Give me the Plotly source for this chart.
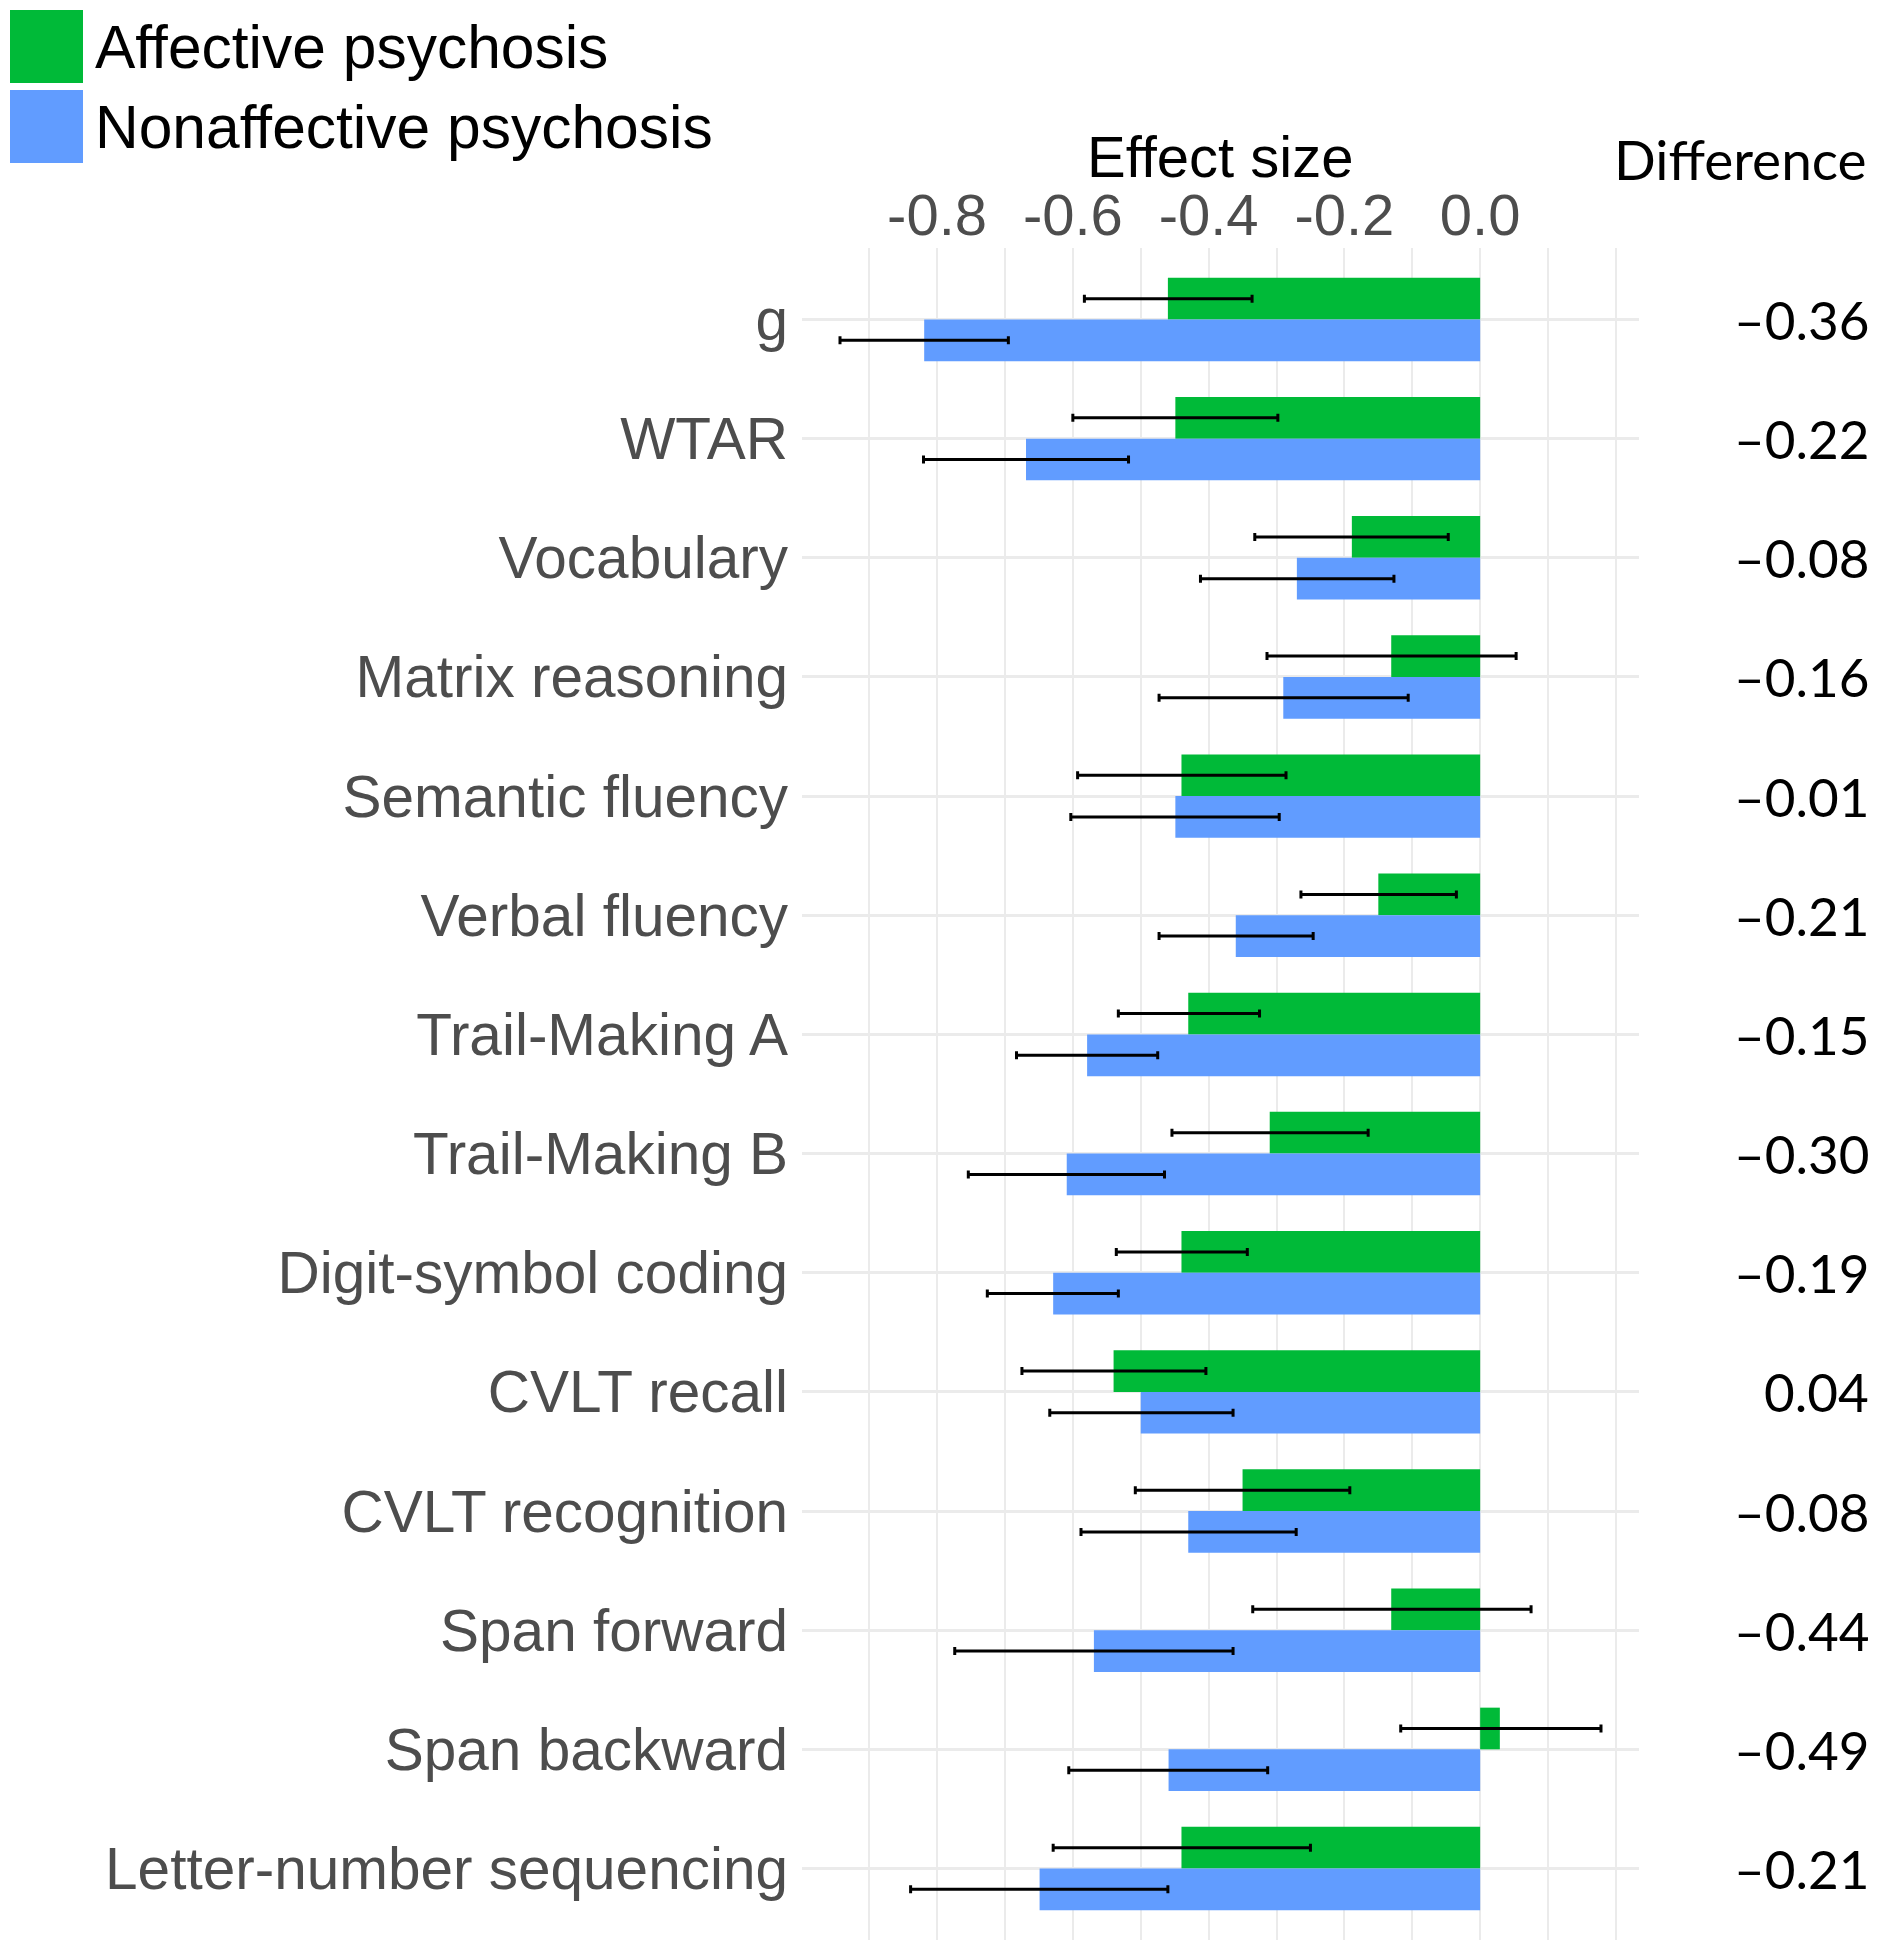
import plotly.graph_objects as go

categories = ["g", "WTAR", "Vocabulary", "Matrix reasoning", "Semantic fluency",
              "Verbal fluency", "Trail-Making A", "Trail-Making B", "Digit-symbol coding",
              "CVLT recall", "CVLT recognition", "Span forward", "Span backward",
              "Letter-number sequencing"]

series_names = ["Affective psychosis", "Nonaffective psychosis"]

aff = [-0.460, -0.449, -0.189, -0.131, -0.440, -0.150, -0.430, -0.310, -0.440, -0.540, -0.350, -0.131, 0.029, -0.440]
aff_lo = [-0.583, -0.600, -0.332, -0.314, -0.593, -0.264, -0.533, -0.454, -0.536, -0.675, -0.508, -0.335, -0.117, -0.629]
aff_hi = [-0.336, -0.298, -0.047, 0.053, -0.286, -0.035, -0.325, -0.165, -0.343, -0.404, -0.192, 0.075, 0.178, -0.250]

non = [-0.819, -0.669, -0.270, -0.290, -0.449, -0.360, -0.579, -0.609, -0.629, -0.500, -0.430, -0.569, -0.459, -0.649]
non_lo = [-0.943, -0.820, -0.412, -0.473, -0.603, -0.473, -0.683, -0.754, -0.726, -0.634, -0.588, -0.774, -0.606, -0.839]
non_hi = [-0.695, -0.518, -0.127, -0.106, -0.296, -0.246, -0.475, -0.465, -0.533, -0.364, -0.271, -0.364, -0.313, -0.460]

differences = ["–0.36", "–0.22", "–0.08", "–0.16", "–0.01", "–0.21", "–0.15", "–0.30",
               "–0.19", "0.04", "–0.08", "–0.44", "–0.49", "–0.21"]

tick_vals = [-0.9, -0.8, -0.7, -0.6, -0.5, -0.4, -0.3, -0.2, -0.1, 0.0, 0.1, 0.2]
tick_text = ["", "-0.8", "", "-0.6", "", "-0.4", "", "-0.2", "", "0.0", "", ""]

colors = ["#00BA38", "#619CFF"]

# page offset from the browser's default body margin
OFF = 8
W, H = 1879 - 2 * OFF, 1950 - 2 * OFF
L, R, T, B = 802 - OFF, 1639 - OFF, 248 - OFF, 1940 - OFF


def px_x(px):
    return (px - OFF - L) / (R - L)


def px_y(py):
    return 1 - (py - OFF - T) / (B - T)


fig = go.Figure()
for name, vals, lo, hi, col in [(series_names[0], aff, aff_lo, aff_hi, colors[0]),
                                (series_names[1], non, non_lo, non_hi, colors[1])]:
    fig.add_trace(go.Bar(
        y=categories, x=vals, name=name, orientation="h",
        marker=dict(color=col, line=dict(width=0)),
        error_x=dict(type="data", symmetric=False,
                     array=[h - v for h, v in zip(hi, vals)],
                     arrayminus=[v - l for v, l in zip(vals, lo)],
                     color="black", thickness=3, width=4),
        showlegend=False,
    ))

fig.update_layout(
    width=W, height=H,
    margin=dict(l=L, r=W - R, t=T, b=H - B, pad=0),
    paper_bgcolor="white", plot_bgcolor="white",
    barmode="group", bargap=0.30, bargroupgap=0,
    font=dict(family="Liberation Sans, Arial", color="#4d4d4d"),
)

fig.update_xaxes(
    side="top", range=[-0.999, 0.234],
    tickmode="array", tickvals=tick_vals, ticktext=tick_text,
    tickfont=dict(size=58, color="#4d4d4d", family="Liberation Sans, Arial"),
    showgrid=True, gridcolor="#ebebeb", gridwidth=2,
    zeroline=False, showline=False, ticks="", ticklabelstandoff=0,
)
fig.update_yaxes(
    autorange=False, range=[13.6, -0.6],
    tickfont=dict(size=58.5, color="#4d4d4d", family="Liberation Sans, Arial"),
    showgrid=True, gridcolor="#ebebeb", gridwidth=3,
    zeroline=False, showline=False, ticks="", ticklabelstandoff=13,
)

annotations = []
for cat, d in zip(categories, differences):
    annotations.append(dict(
        x=px_x(1871), xref="paper", y=cat, yref="y",
        text=d, showarrow=False, xanchor="right", yanchor="middle",
        font=dict(family="Lato, Liberation Sans", size=53, color="black"),
    ))
annotations.append(dict(
    x=px_x(1869), xref="paper", y=px_y(159), yref="paper",
    text="Difference", showarrow=False, xanchor="right", yanchor="middle",
    font=dict(family="Lato, Liberation Sans", size=55, color="black"),
))
annotations.append(dict(
    x=0.5, xref="paper", y=px_y(156), yref="paper",
    text="Effect size", showarrow=False, xanchor="center", yanchor="middle",
    font=dict(family="Liberation Sans, Arial", size=58, color="black"),
))

shapes = []
legend_rows = [(10, 83, 47), (90, 163, 127)]
for tr, (y0, y1, yc) in zip(fig.data, legend_rows):
    shapes.append(dict(
        type="rect", xref="paper", yref="paper",
        x0=px_x(10), x1=px_x(83), y0=px_y(y1), y1=px_y(y0),
        fillcolor=tr.marker.color, line=dict(width=0),
    ))
    annotations.append(dict(
        x=px_x(93), xref="paper", y=px_y(yc), yref="paper",
        text=tr.name, showarrow=False, xanchor="left", yanchor="middle",
        font=dict(family="Liberation Sans, Arial", size=60.5, color="black"),
    ))

fig.update_layout(annotations=annotations, shapes=shapes)

fig.write_html("out.html")
